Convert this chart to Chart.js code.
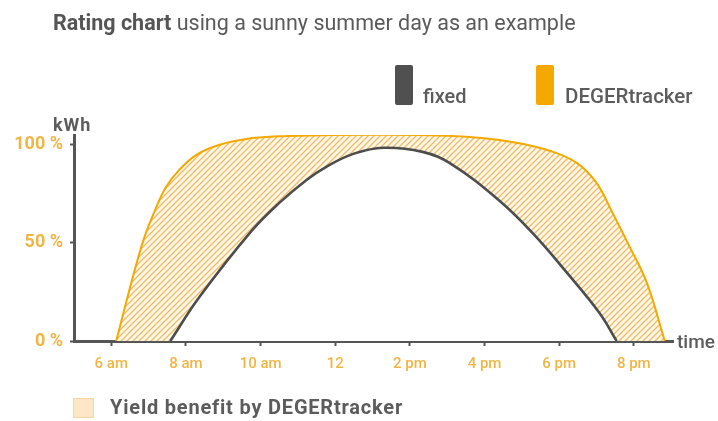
<!DOCTYPE html>
<html>
<head>
<meta charset="utf-8">
<title>Rating chart</title>
<script src="https://cdn.jsdelivr.net/npm/chart.js@4.4.1/dist/chart.umd.min.js"></script>
<style>
  html, body { margin: 0; padding: 0; background: #fff; }
  #wrap { position: relative; width: 718px; height: 421px; font-family: Roboto, "Noto Sans", sans-serif; color: #5c5c5c; }
  #chart { position: absolute; left: 0; top: 0; }
  .txt { position: absolute; white-space: nowrap; line-height: 1; }
  .sw { position: absolute; }
</style>
</head>
<body>
<div id="wrap">
  <canvas id="chart" width="718" height="421"></canvas>

  <div class="txt" style="left:53px; top:12px; font-size:21.5px; color:#5a5a5a;">
    <b style="font-weight:700; color:#555;">Rating chart</b> using a sunny summer day as an example
  </div>

  <div class="sw" style="left:395px; top:65px; width:18px; height:40px; background:#505050; border-radius:2px;"></div>
  <div class="txt" style="left:423px; top:86px; font-size:20px; font-weight:500;">fixed</div>
  <div class="sw" style="left:536px; top:65px; width:18px; height:40px; background:#f5a800; border-radius:2px;"></div>
  <div class="txt" style="left:565px; top:86px; font-size:20.5px; font-weight:500;">DEGERtracker</div>

  <div class="txt" style="left:53px; top:116px; font-size:18px; font-weight:700; letter-spacing:1px;">kWh</div>
  <div class="txt" style="left:677px; top:332px; font-size:19px; font-weight:500;">time</div>

  <div class="sw" style="left:73px; top:398px; width:19px; height:18px; background:#fde7c6; border:1px solid #f6d6a0;"></div>
  <div class="txt" style="left:110px; top:397px; font-size:20px; font-weight:700; letter-spacing:0.8px;">Yield benefit by DEGERtracker</div>
</div>

<script>
// DEGERtracker curve (hour of day, % of fixed peak)
const trackerHours = [6.13, 6.82, 7.21, 7.47, 7.82, 8.28, 8.9, 9.62, 10.5, 11.84, 13.2, 14.3, 15.6, 16.4, 17.0, 17.74, 18.47, 19.0, 19.43, 19.89, 20.35, 20.83];
const trackerValues = [0, 49, 68.4, 78.6, 87.2, 94.9, 100, 103, 104.3, 105, 105.2, 105, 104, 102.5, 100.5, 97, 90.8, 80.6, 65.3, 48, 29.6, 0];

// fixed installation curve
const fixedHours = [7.58, 8.36, 9.78, 10.5, 11.23, 11.76, 12.5, 13.3, 14.34, 15.06, 16.4, 17.29, 18.2, 19.08, 19.54];
const fixedValues = [0, 22.4, 56.6, 70.4, 82.1, 88.8, 95.5, 98.5, 96.4, 90.8, 71.5, 55, 35, 14.3, 0];

const xTickHours = [6, 8, 10, 12, 14, 16, 18, 20];
const xTickLabels = ["6 am", "8 am", "10 am", "12", "2 pm", "4 pm", "6 pm", "8 pm"];
const yTickValues = [0, 50, 100];
const yTickLabels = ["0 %", "50 %", "100 %"];

const axisColor = "#555555";
const labelOrange = "#f1b545";

function makeHatch() {
  const s = 6;
  const c = document.createElement("canvas");
  c.width = s;
  c.height = s;
  const g = c.getContext("2d");
  g.fillStyle = "#fff8ea";
  g.fillRect(0, 0, s, s);
  g.strokeStyle = "#eebd68";
  g.lineWidth = 1.4;
  g.beginPath();
  g.moveTo(0, s); g.lineTo(s, 0);
  g.moveTo(-s / 2, s / 2); g.lineTo(s / 2, -s / 2);
  g.moveTo(s / 2, s * 1.5); g.lineTo(s * 1.5, s / 2);
  g.stroke();
  return g.createPattern(c, "repeat");
}

function points(xs, ys) {
  return xs.map((x, i) => ({ x: x, y: ys[i] }));
}

const ctx = document.getElementById("chart");
new Chart(ctx, {
  type: "line",
  data: {
    datasets: [
      {
        label: "DEGERtracker",
        data: points(trackerHours, trackerValues),
        borderColor: "#f4a900",
        borderWidth: 2,
        backgroundColor: makeHatch(),
        fill: "origin",
        pointRadius: 0,
        tension: 0.4,
        order: 2,
      },
      {
        // white fill under the fixed curve leaves only the yield benefit hatched
        label: "fixed",
        data: points(fixedHours, fixedValues),
        borderColor: "#4d4d4d",
        borderWidth: 2.6,
        backgroundColor: "#ffffff",
        fill: "origin",
        pointRadius: 0,
        tension: 0.4,
        order: 1,
      },
    ],
  },
  options: {
    responsive: false,
    animation: false,
    layout: { padding: { top: 135, right: 45, left: 0, bottom: 0 } },
    plugins: {
      legend: { display: false },
      tooltip: { enabled: false },
    },
    scales: {
      x: {
        type: "linear",
        min: 5,
        max: 21.05,
        afterBuildTicks: (s) => { s.ticks = xTickHours.map((v) => ({ value: v })); },
        afterFit: (s) => { s.height = 80; },
        ticks: {
          autoSkip: false,
          maxRotation: 0,
          padding: 9,
          color: labelOrange,
          font: { family: "Roboto", size: 15, weight: "500" },
          callback: (v, i) => xTickLabels[i],
        },
        grid: { drawOnChartArea: false, drawTicks: true, tickLength: 5, tickWidth: 2, tickColor: axisColor },
        border: { color: axisColor, width: 3 },
      },
      y: {
        min: 0,
        max: 105,
        afterBuildTicks: (s) => { s.ticks = yTickValues.map((v) => ({ value: v })); },
        afterFit: (s) => { s.width = 74; },
        ticks: {
          padding: 7,
          color: labelOrange,
          font: { family: "Roboto", size: 18, weight: "bold" },
          callback: (v, i) => yTickLabels[i],
        },
        grid: { drawOnChartArea: false, drawTicks: true, tickLength: 4, tickWidth: 2, tickColor: axisColor },
        border: { color: axisColor, width: 3 },
      },
    },
  },
});
</script>
</body>
</html>
